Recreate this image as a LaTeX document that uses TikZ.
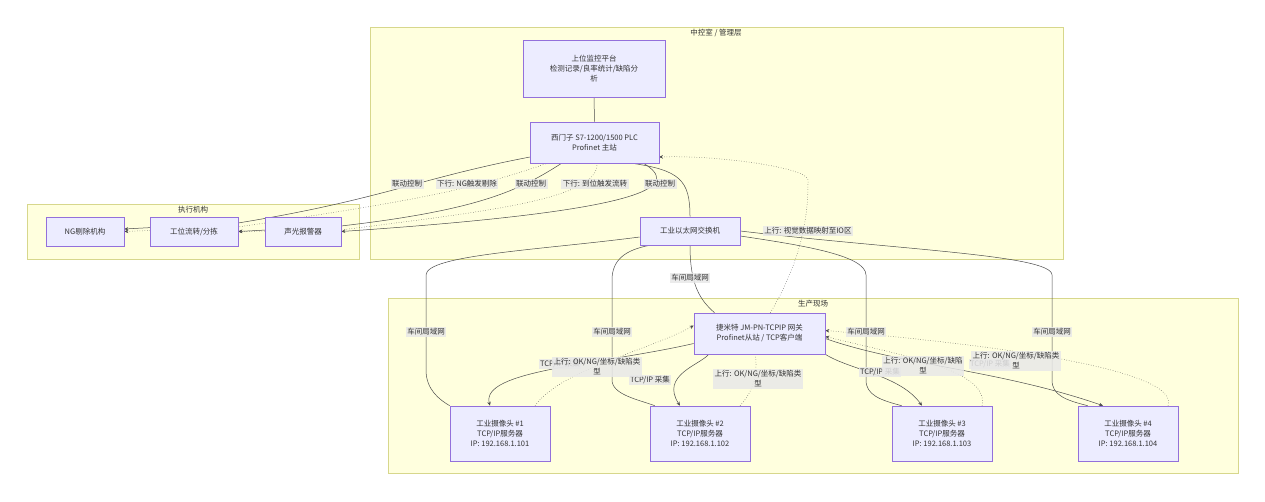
\documentclass[tikz,border=0pt]{standalone}
\usepackage{fontspec}
\setmainfont{Noto Sans CJK SC}
\usetikzlibrary{arrows.meta}
\pgfdeclarelayer{bg}
\pgfdeclarelayer{grpl}
\pgfsetlayers{grpl,bg,main}
\definecolor{boxd}{RGB}{147,112,219}
\definecolor{boxf}{RGB}{236,236,255}
\definecolor{grpd}{RGB}{215,215,140}
\definecolor{grpf}{RGB}{255,255,222}
\begin{document}
\begin{tikzpicture}[x=1pt,y=-1pt,
  every node/.style={font=\fontsize{7.5}{10}\selectfont, text=black!80},
  box/.style={draw=boxd, fill=boxf, line width=0.6pt, align=center, inner sep=0pt},
  grp/.style={draw=grpd, fill=grpf, line width=0.6pt},
  lbl/.style={fill=gray!18, fill opacity=0.85, text opacity=1, inner sep=1.5pt, align=center},
  ln/.style={draw=black!70, line width=0.5pt},
  arr/.style={ln, -{Stealth[length=4pt,width=3.5pt]}},
  dt/.style={ln, dotted},
  darr/.style={dt, -{Stealth[length=4pt,width=3.5pt]}}]
\useasboundingbox (0,0) rectangle (1265,502);
% groups
\begin{pgfonlayer}{grpl}
\draw[grp] (370,27) rectangle (1063,259);
\draw[grp] (27,204) rectangle (359,259);
\draw[grp] (388,298) rectangle (1238,473);
\end{pgfonlayer}
\node at (716,33) {中控室 / 管理层};
\node at (193,210) {执行机构};
\node at (813,304) {生产现场};
% nodes
\node[box, minimum width=142, minimum height=57] (mon) at (594,68.5) {上位监控平台\\检测记录/良率统计/缺陷分\\析};
\node[box, minimum width=129, minimum height=41] (plc) at (594.5,142.5) {西门子 S7-1200/1500 PLC\\Profinet 主站};
\node[box, minimum width=100, minimum height=28] (sw) at (690,231) {工业以太网交换机};
\node[box, minimum width=78, minimum height=29] (ng) at (85,231.5) {NG剔除机构};
\node[box, minimum width=88, minimum height=29] (gw) at (194,231.5) {工位流转/分拣};
\node[box, minimum width=76, minimum height=29] (al) at (303,231.5) {声光报警器};
\node[box, minimum width=131, minimum height=41] (gate) at (759.5,333.5) {捷米特 JM-PN-TCPIP 网关\\Profinet从站 / TCP客户端};
\node[box, minimum width=100, minimum height=55] (c1) at (500,433.5) {工业摄像头 \#1\\TCP/IP服务器\\IP: 192.168.1.101};
\node[box, minimum width=100, minimum height=55] (c2) at (700,433.5) {工业摄像头 \#2\\TCP/IP服务器\\IP: 192.168.1.102};
\node[box, minimum width=100, minimum height=55] (c3) at (942,433.5) {工业摄像头 \#3\\TCP/IP服务器\\IP: 192.168.1.103};
\node[box, minimum width=100, minimum height=55] (c4) at (1128,433.5) {工业摄像头 \#4\\TCP/IP服务器\\IP: 192.168.1.104};
% coordinates
\coordinate (pA) at (530,157);
\coordinate (pB) at (548,163);
\coordinate (pC) at (562,163);
\coordinate (pD) at (597,163);
\coordinate (pE) at (630,163);
\coordinate (pF) at (643,163);
\coordinate (pR) at (659,157);
\begin{pgfonlayer}{bg}
\draw[ln] (mon.south) -- (plc.north);
\draw[arr] (pA) .. controls (420,178) and (380,200) .. (238,223) -- (ng.east |- 0,229) ;
\draw[darr] (pB) .. controls (470,190) and (420,200) .. (238,227) -- (ng.east);
\draw[arr] (pC) .. controls (520,190) and (480,210) .. (341,226) -- (gw.east);
\draw[darr] (pD) .. controls (600,200) and (480,212) .. (341,230) -- (gw.east |- 0,231.5);
\draw[arr] (pF) .. controls (680,185) and (660,210) .. (al.east);
\draw[ln] (sw.north) .. controls (690,180) and (680,170) .. (pE);
\draw[darr] (gate.north east) ++(-55,0) .. controls (808,250) and (808,200) .. (808,180) .. controls (808,168) and (720,155) .. (pR);
\draw[ln] (sw.west) ++(0,6) .. controls (540,250) and (426,255) .. (426,275) -- (426,370) .. controls (426,390) and (440,400) .. (c1.north west) ++(15,0);
\draw[ln] (sw.south west) ++(10,0) .. controls (625,250) and (612,260) .. (612,280) -- (612,380) .. controls (612,395) and (640,400) .. ([xshift=5pt]c2.north west);
\draw[ln] (sw.south) .. controls (690,285) and (700,300) .. ([xshift=-45pt]gate.north);
\draw[ln] (sw.east) ++(0,5) .. controls (800,245) and (866,255) .. (866,275) -- (866,380) .. controls (866,395) and (880,400) .. ([xshift=10pt]c3.north west);
\draw[ln] (sw.east) .. controls (900,250) and (1052,255) .. (1052,275) -- (1052,380) .. controls (1052,395) and (1065,400) .. ([xshift=10pt]c4.north west);
\draw[arr] (gate.west) ++(0,10) .. controls (600,365) and (480,370) .. ([xshift=-10pt]c1.north);
\draw[arr] (gate.south west) ++(15,0) .. controls (700,365) and (660,375) .. ([xshift=-20pt]c2.north);
\draw[arr] (gate.south east) .. controls (850,370) and (900,375) .. ([xshift=-20pt]c3.north);
\draw[arr] (gate.east) ++(0,5) .. controls (900,365) and (1000,370) .. ([xshift=-25pt]c4.north);
\draw[darr] ([xshift=35pt]c1.north) .. controls (560,370) and (650,350) .. ([yshift=8pt]gate.west);
\draw[darr] ([xshift=40pt]c2.north) .. controls (755,390) and (758,370) .. ([xshift=-5pt,yshift=5pt]gate.south);
\draw[darr] ([xshift=40pt]c3.north) .. controls (990,370) and (900,355) .. ([yshift=-3pt]gate.east);
\draw[darr] ([xshift=40pt]c4.north) .. controls (1180,370) and (1000,345) .. ([yshift=3pt]gate.east);
\end{pgfonlayer}
% labels
\node[lbl] at (407,184) {联动控制};
\node[lbl] at (467,184) {下行: NG触发剔除};
\node[lbl] at (531,184) {联动控制};
\node[lbl] at (595,184) {下行: 到位触发流转};
\node[lbl] at (660,184) {联动控制};
\node[lbl] at (808,231) {上行: 视觉数据映射至IO区};
\node[lbl] at (690,278) {车间局域网};
\node[lbl] at (426,332) {车间局域网};
\node[lbl] at (612,332) {车间局域网};
\node[lbl] at (866,332) {车间局域网};
\node[lbl] at (1052,332) {车间局域网};
\node[lbl] at (560,364) {TCP/IP 采集};
\node[lbl] at (650,380) {TCP/IP 采集};
\node[lbl] at (880,372) {TCP/IP 采集};
\node[lbl] at (990,364) {TCP/IP 采集};
\node[lbl] at (597,367) {上行: OK/NG/坐标/缺陷类\\型};
\node[lbl] at (758,379) {上行: OK/NG/坐标/缺陷类\\型};
\node[lbl] at (923,366) {上行: OK/NG/坐标/缺陷\\型};
\node[lbl] at (1016,361) {上行: OK/NG/坐标/缺陷类\\型};
\end{tikzpicture}
\end{document}
